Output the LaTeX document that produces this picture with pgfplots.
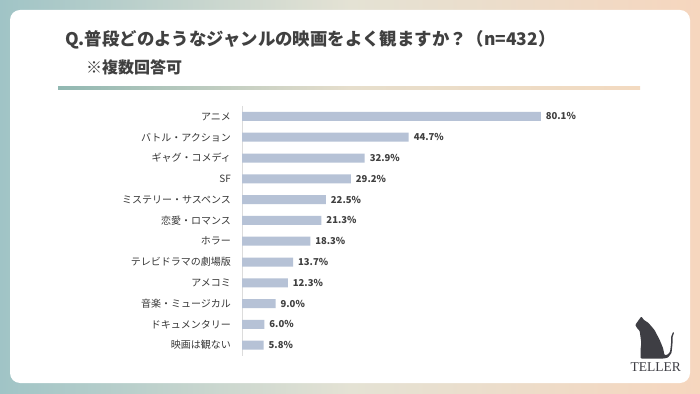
\documentclass[border=0pt]{standalone}
\usepackage{fontspec}
\setmainfont{Noto Sans CJK JP}
\newfontfamily\tellerfont{Liberation Serif}
\usepackage{pgfplots}
\pgfplotsset{compat=1.18}
\definecolor{bgL}{RGB}{160,196,198}
\definecolor{bgM}{RGB}{228,226,212}
\definecolor{bgR}{RGB}{246,214,190}
\definecolor{lineL}{RGB}{145,184,178}
\definecolor{lineM}{RGB}{230,222,204}
\definecolor{lineR}{RGB}{243,218,192}
\definecolor{titlec}{RGB}{64,64,64}
\definecolor{labelc}{RGB}{55,55,55}
\definecolor{valc}{RGB}{64,64,64}
\definecolor{barc}{RGB}{182,194,214}
\definecolor{axisc}{RGB}{220,220,220}
\definecolor{catc}{RGB}{62,62,68}
\begin{document}
\begin{tikzpicture}[x=1pt,y=1pt]
% background
\shade[left color=bgL, right color=bgR, middle color=bgM] (0,0) rectangle (700,393);
\fill[white, rounded corners=10pt] (10,10) rectangle (690,383);
% gradient rule
\shade[left color=lineL, right color=lineR, middle color=lineM] (58,303.5) rectangle (640,306.5);
% titles
\node[anchor=west, inner sep=0pt, text=titlec, font=\bfseries\fontsize{17.4}{20}\selectfont] at (65,353) {Q.普段どのようなジャンルの映画をよく観ますか？（n=432）};
\node[anchor=west, inner sep=0pt, text=titlec, font=\bfseries\fontsize{16}{19}\selectfont] at (86,326) {※複数回答可};
% chart
\begin{axis}[
  at={(242pt,37.4pt)}, anchor=south west,
  scale only axis, width=373pt, height=249.6pt,
  xbar, bar width=9pt,
  xmin=0, xmax=100, ymin=-0.5, ymax=11.5,
  y dir=reverse,
  ytick={0,...,11},
  yticklabels={アニメ,バトル・アクション,ギャグ・コメディ,SF,ミステリー・サスペンス,恋愛・ロマンス,ホラー,テレビドラマの劇場版,アメコミ,音楽・ミュージカル,ドキュメンタリー,映画は観ない},
  xtick=\empty,
  axis x line=none,
  axis y line*=left,
  y axis line style={draw=axisc, line width=0.6pt, -},
  major tick length=0pt,
  yticklabel style={font=\fontsize{10}{12}\selectfont, text=labelc, xshift=-7.5pt},
  nodes near coords={\pgfmathprintnumber[fixed,fixed zerofill,precision=1,assume math mode=true]{\pgfplotspointmeta}\%},
  nodes near coords style={font=\bfseries\fontsize{9.5}{11}\selectfont, text=valc, anchor=west, xshift=1.5pt},
  point meta=explicit symbolic,
  clip=false,
]
\addplot[fill=barc, draw=none] table[meta=v] {
x y v
80.1 0 80.1
44.7 1 44.7
32.9 2 32.9
29.2 3 29.2
22.5 4 22.5
21.3 5 21.3
18.3 6 18.3
13.7 7 13.7
12.3 8 12.3
9.0 9 9.0
6.0 10 6.0
5.8 11 5.8
};
\end{axis}
% cat logo
\fill[catc, rounded corners=0.8pt] (635.3,68) -- (638,72) -- (641.3,76.5) -- (644,73) -- (648.5,70) -- (654.5,63) -- (659.7,53) -- (663,45) -- (664.5,38) -- (667,38) -- (670,41) -- (671,49) -- (671,56) -- (673,61) -- (674.2,60.5) -- (672.5,56) -- (672.5,49) -- (671.5,40) -- (668,35.5) -- (664,34.5) -- (640.7,34.5) -- (640.5,43) -- (641.3,50) -- (639.7,62) -- (637,65) -- cycle;
\node[inner sep=0pt, text=catc, font=\tellerfont\fontsize{13.5}{14}\selectfont] at (655.7,26) {TELLER};
\end{tikzpicture}
\end{document}
